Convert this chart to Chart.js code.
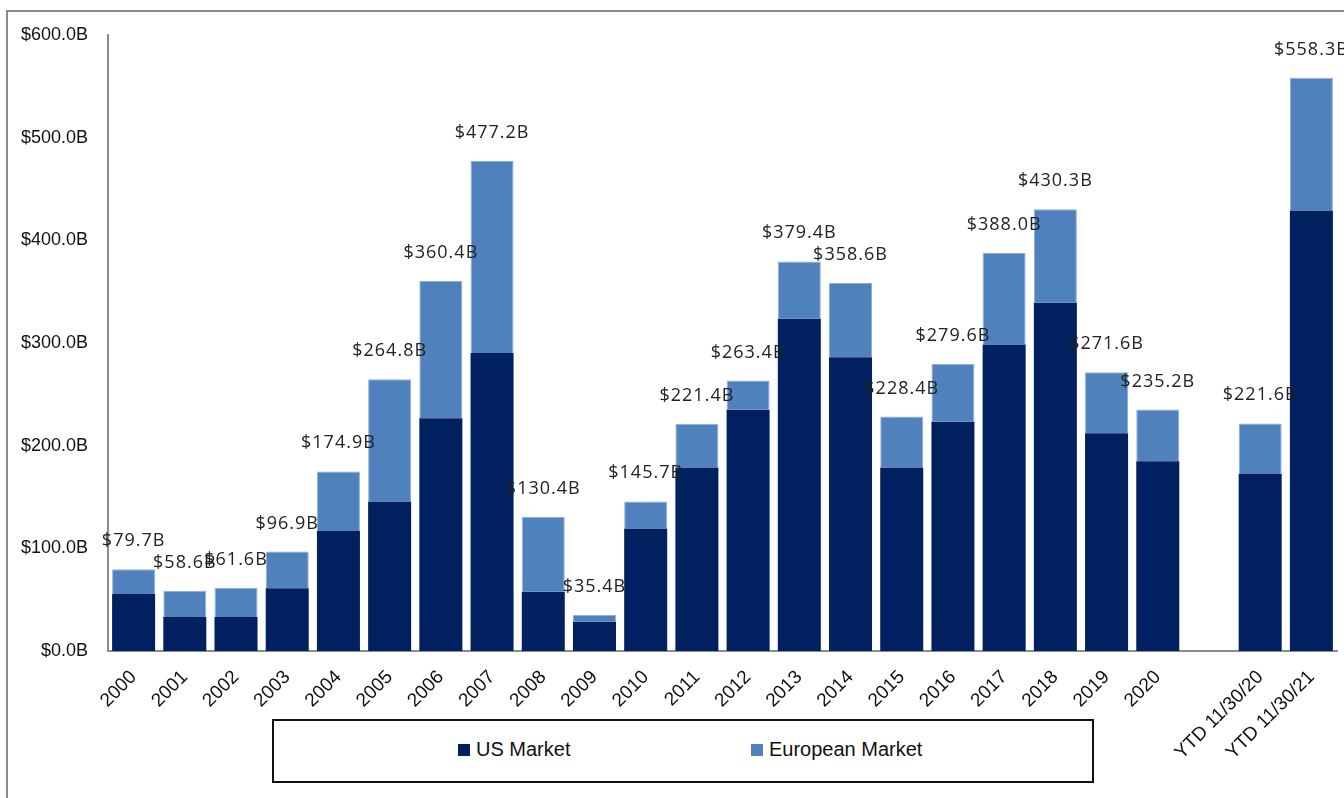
<!DOCTYPE html>
<html>
<head>
<meta charset="utf-8">
<title>US and European Market</title>
<script src="https://cdn.jsdelivr.net/npm/chart.js@4/dist/chart.umd.min.js"></script>
<style>
    html, body {
        margin: 0;
        padding: 0;
        background: #ffffff;
        overflow: hidden;
    }
    #wrap {
        position: relative;
        width: 1344px;
        height: 798px;
    }
    #frame {
        position: absolute;
        left: 6px;
        top: 10px;
        width: 1400px;
        height: 900px;
        border-left: 2px solid #8a8a8a;
        border-top: 2px solid #8a8a8a;
    }
    #marketChart {
        position: absolute;
        left: 0;
        top: 0;
    }
    #legendBox {
        position: absolute;
        left: 272px;
        top: 719px;
        width: 822px;
        height: 64px;
        box-sizing: border-box;
        border: 2px solid #111111;
        background: #ffffff;
        font-family: "Liberation Sans", Arial, sans-serif;
        font-size: 20px;
        color: #111111;
    }
    .legend-item {
        position: absolute;
        top: 17px;
        display: flex;
        align-items: center;
        gap: 6px;
    }
    .legend-swatch {
        width: 12px;
        height: 12px;
        display: inline-block;
    }
</style>
</head>
<body>
<div id="wrap">
    <div id="frame"></div>
    <canvas id="marketChart" width="1344" height="798"></canvas>
    <div id="legendBox"></div>
</div>
<script>
const US_COLOR = "#002060";
const EU_COLOR = "#4f81bd";

const categories = [
    "2000", "2001", "2002", "2003", "2004", "2005", "2006", "2007",
    "2008", "2009", "2010", "2011", "2012", "2013", "2014", "2015",
    "2016", "2017", "2018", "2019", "2020", "", "YTD 11/30/20", "YTD 11/30/21"
];

// values in $B
const usMarket = [
    55.4, 33.2, 33.2, 61.0, 117.0, 145.6, 226.7, 290.2,
    57.7, 28.5, 119.4, 178.7, 235.1, 323.6, 286.0, 178.7,
    223.4, 298.6, 339.2, 212.0, 184.8, null, 172.5, 429.0
];

const europeanMarket = [
    24.3, 25.4, 28.4, 35.9, 57.9, 119.2, 133.7, 187.0,
    72.7, 6.9, 26.3, 42.7, 28.3, 55.8, 72.6, 49.7,
    56.2, 89.4, 91.1, 59.6, 50.4, null, 49.1, 129.3
];

const totalLabels = [
    "$79.7B", "$58.6B", "$61.6B", "$96.9B", "$174.9B", "$264.8B", "$360.4B", "$477.2B",
    "$130.4B", "$35.4B", "$145.7B", "$221.4B", "$263.4B", "$379.4B", "$358.6B", "$228.4B",
    "$279.6B", "$388.0B", "$430.3B", "$271.6B", "$235.2B", null, "$221.6B", "$558.3B"
];

const yTicks = [0, 100, 200, 300, 400, 500, 600];

const seriesNames = ["US Market", "European Market"];

// draws the total above each stacked bar
const totalsPlugin = {
    id: "totals",
    afterDatasetsDraw(chart) {
        let ctx = chart.ctx;
        let meta = chart.getDatasetMeta(1);
        ctx.save();
        ctx.font = '18px "Open Sans", sans-serif';
        ctx.letterSpacing = "1px";
        ctx.fillStyle = "#222222";
        ctx.textAlign = "center";
        ctx.textBaseline = "alphabetic";
        meta.data.forEach(function (bar, i) {
            if (totalLabels[i] === null) {
                return;
            }
            ctx.fillText(totalLabels[i], bar.x, bar.y - 23);
        });
        ctx.restore();
    }
};

const config = {
    type: "bar",
    data: {
        labels: categories,
        datasets: [
            {
                label: seriesNames[0],
                data: usMarket,
                backgroundColor: US_COLOR,
                borderWidth: 0,
            },
            {
                label: seriesNames[1],
                data: europeanMarket,
                backgroundColor: EU_COLOR,
                borderColor: "#8eaedb",
                borderWidth: { top: 1, left: 1, right: 1, bottom: 0 },
            },
        ],
    },
    options: {
        responsive: false,
        animation: false,
        layout: {
            padding: { top: 35, left: 8, right: 7, bottom: 0 },
        },
        datasets: {
            bar: {
                categoryPercentage: 1.0,
                barPercentage: 0.84,
            },
        },
        plugins: {
            legend: { display: false },
            tooltip: { enabled: false },
        },
        scales: {
            x: {
                stacked: true,
                grid: { display: false, drawTicks: false },
                border: { display: true, color: "#8c8c8c", width: 2 },
                ticks: {
                    color: "#111111",
                    font: { family: "Liberation Sans", size: 19 },
                    maxRotation: 45,
                    minRotation: 45,
                    autoSkip: false,
                    padding: 15,
                },
                afterFit: function (scale) {
                    scale.height = 147;
                },
            },
            y: {
                stacked: true,
                min: 0,
                max: 600,
                afterBuildTicks: function (scale) {
                    scale.ticks = yTicks.map((v) => ({ value: v }));
                },
                grid: { display: false, drawTicks: false },
                border: { display: true, color: "#8c8c8c", width: 2 },
                ticks: {
                    color: "#111111",
                    font: { family: "Liberation Sans", size: 18 },
                    padding: 20,
                    callback: function (value) {
                        return "$" + value.toFixed(1) + "B";
                    },
                },
                afterFit: function (scale) {
                    scale.width = 100;
                },
            },
        },
    },
    plugins: [totalsPlugin],
};

let marketChart = new Chart(document.getElementById("marketChart").getContext("2d"), config);

// legend box under the chart
let legendBox = document.getElementById("legendBox");
let legendLefts = [184, 477];
[US_COLOR, EU_COLOR].forEach(function (color, i) {
    let item = document.createElement("div");
    item.className = "legend-item";
    item.style.left = legendLefts[i] + "px";
    let swatch = document.createElement("span");
    swatch.className = "legend-swatch";
    swatch.style.background = color;
    let text = document.createElement("span");
    text.innerHTML = seriesNames[i];
    item.appendChild(swatch);
    item.appendChild(text);
    legendBox.appendChild(item);
});
</script>
</body>
</html>
